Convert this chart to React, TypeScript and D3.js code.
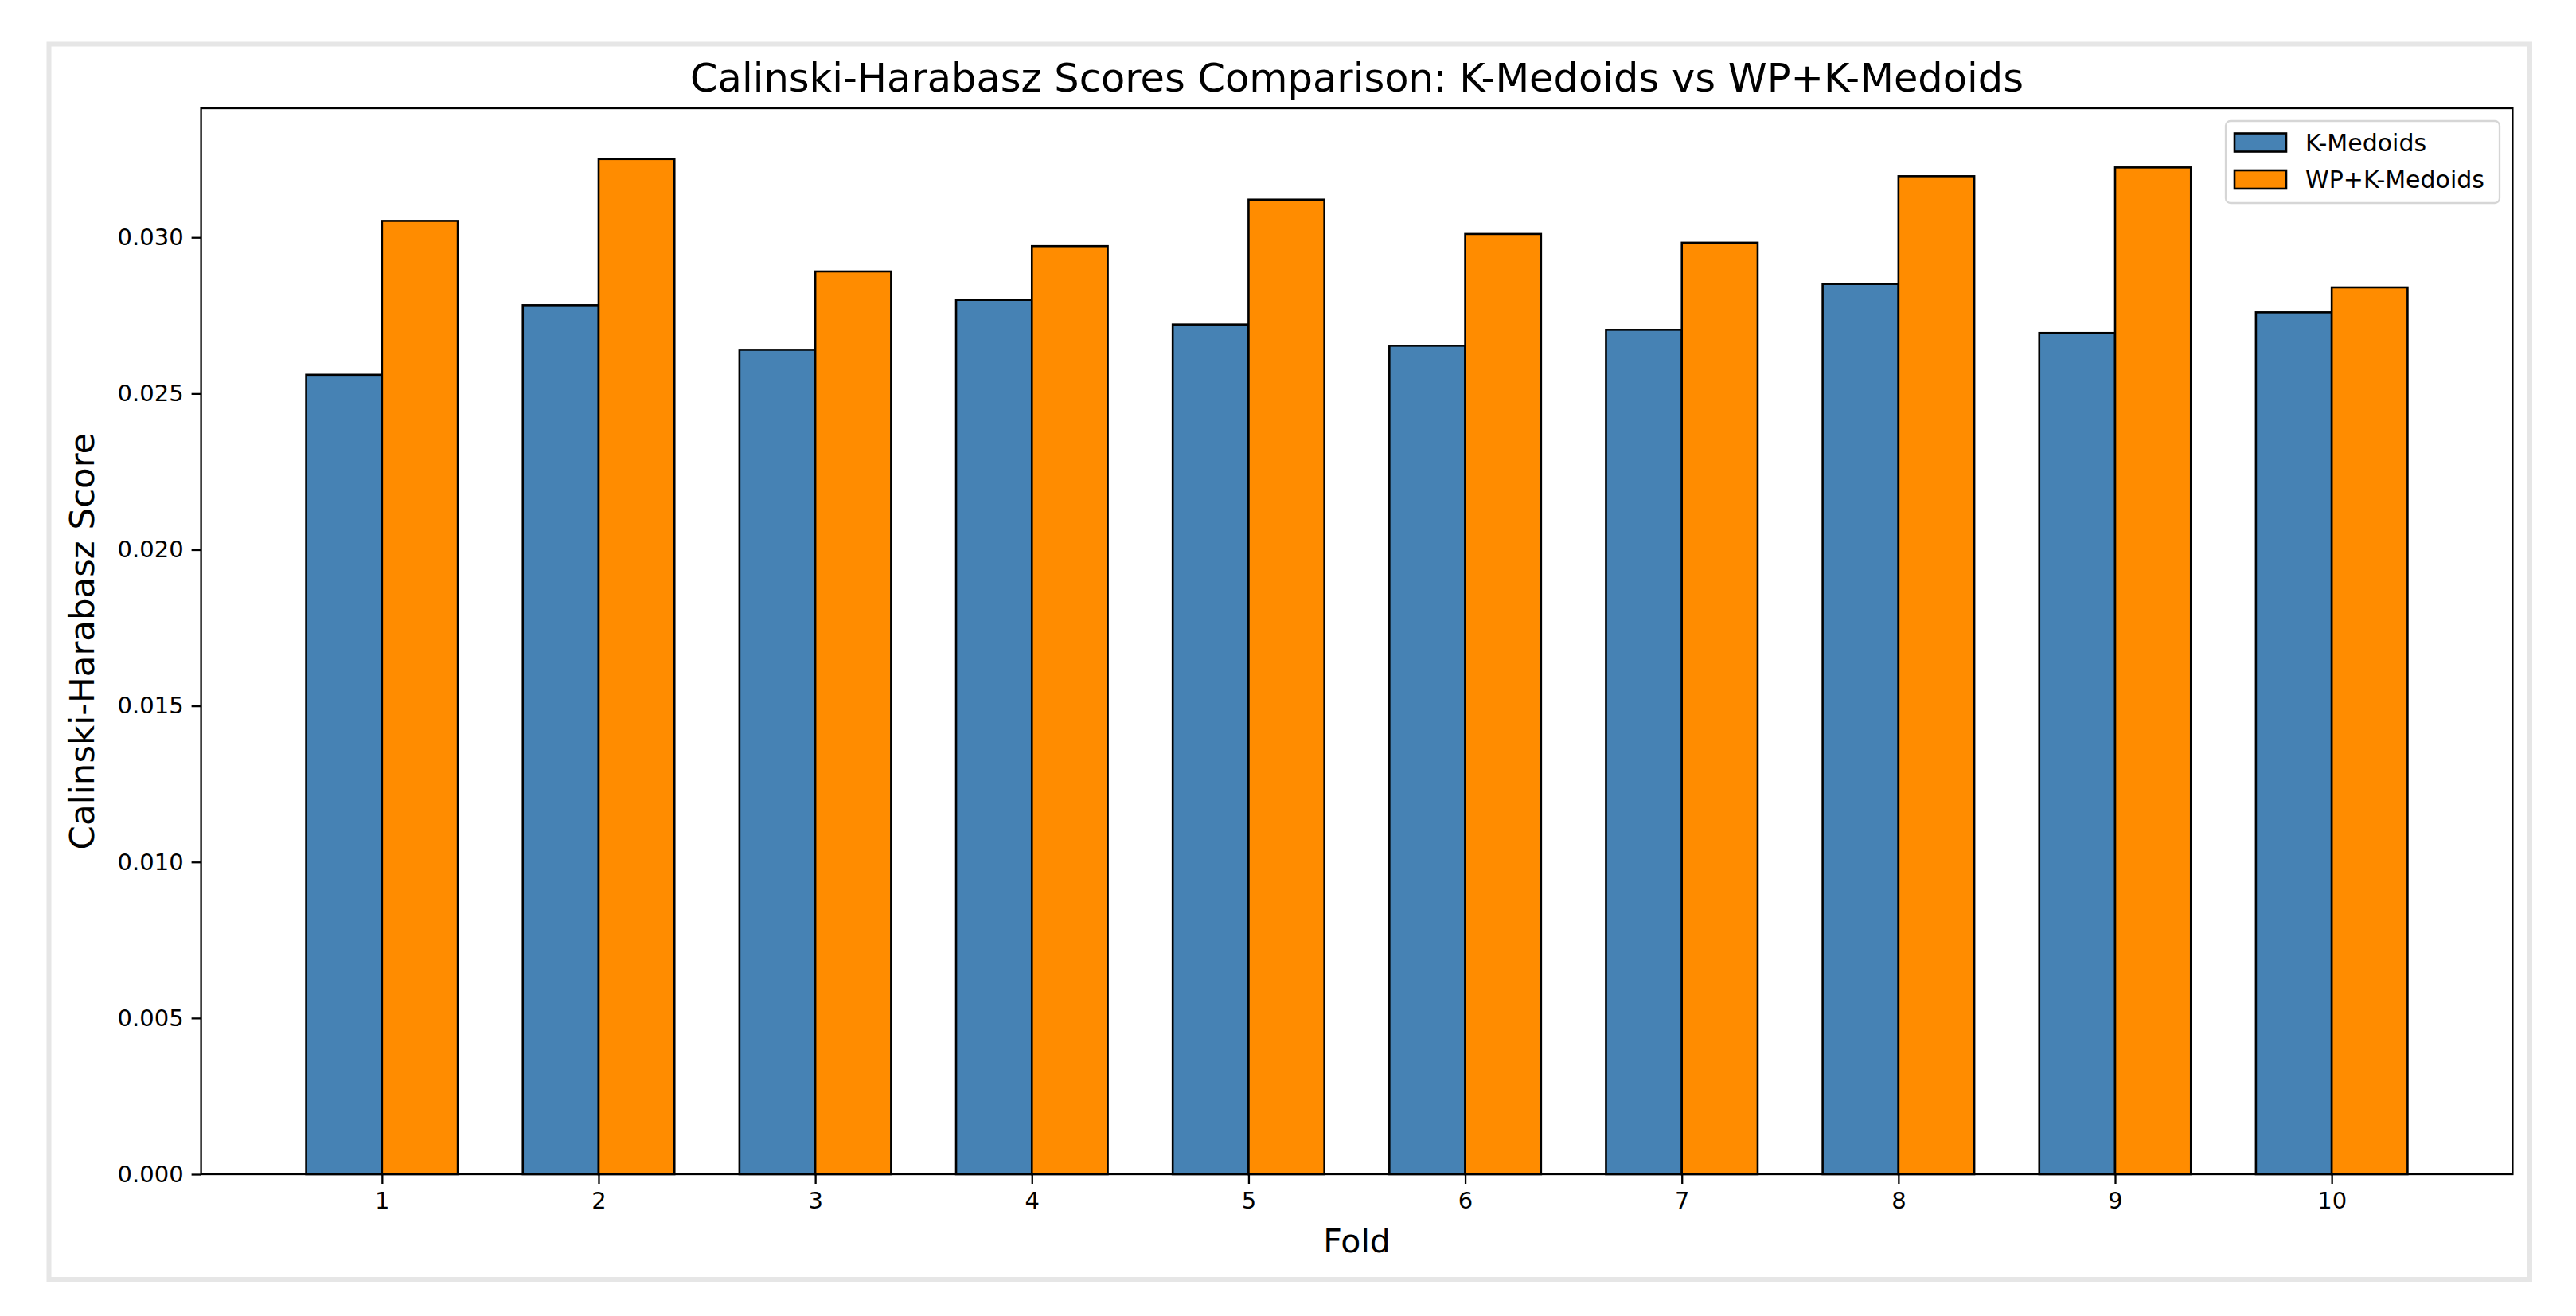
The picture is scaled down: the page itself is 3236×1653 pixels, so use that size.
import React, { useEffect, useRef } from "react";
import * as d3 from "d3";

const folds = ["1", "2", "3", "4", "5", "6", "7", "8", "9", "10"];
const kMedoids = [0.0256, 0.02783, 0.0264, 0.028, 0.02721, 0.02653, 0.02704, 0.02851, 0.02694, 0.0276];
const wpKMedoids = [0.03053, 0.03251, 0.02891, 0.02972, 0.03121, 0.03011, 0.02983, 0.03196, 0.03224, 0.0284];
const yTicks = [0, 0.005, 0.01, 0.015, 0.02, 0.025, 0.03];
const seriesNames = ["K-Medoids", "WP+K-Medoids"];
const seriesColors = ["#4682b4", "#ff8c00"];

const W = 3236;
const H = 1653;
const font = "'DejaVu Sans', sans-serif";

export default function App() {
  const ref = useRef<SVGSVGElement>(null);

  useEffect(() => {
    const svg = d3.select(ref.current);
    svg.selectAll("*").remove();

    const left = 252.6, right = 3156.4, top = 136, bottom = 1475;
    const barW = 0.35;
    const maxV = d3.max([...kMedoids, ...wpKMedoids]) as number;
    const span = folds.length - 1 + 2 * barW;

    const x = d3.scaleLinear()
      .domain([-barW - 0.05 * span, folds.length - 1 + barW + 0.05 * span])
      .range([left, right]);
    const y = d3.scaleLinear().domain([0, maxV * 1.05]).range([bottom, top]);

    svg.append("rect").attr("width", W).attr("height", H).attr("fill", "#ffffff");

    // outer frame
    svg.append("rect")
      .attr("x", 61.5).attr("y", 55.5)
      .attr("width", 3178 - 61.5).attr("height", 1607 - 55.5)
      .attr("fill", "none").attr("stroke", "#e6e6e6").attr("stroke-width", 6);

    // bars
    const series = [kMedoids, wpKMedoids];
    series.forEach((vals, s) => {
      svg.append("g").selectAll("rect")
        .data(vals)
        .enter()
        .append("rect")
        .attr("x", (d, i) => x(i + (s === 0 ? -barW : 0)))
        .attr("y", d => y(d))
        .attr("width", x(barW) - x(0))
        .attr("height", d => y(0) - y(d))
        .attr("fill", seriesColors[s])
        .attr("stroke", "#000")
        .attr("stroke-width", 2.6);
    });

    // x axis
    const xAxis = d3.axisBottom(x)
      .tickValues(folds.map((_, i) => i))
      .tickFormat((d) => folds[d as number])
      .tickSize(12)
      .tickPadding(10);
    const gx = svg.append("g")
      .attr("transform", `translate(0, ${bottom})`)
      .call(xAxis);
    gx.select(".domain").remove();
    gx.selectAll("line").attr("stroke", "#000").attr("stroke-width", 2.3);
    gx.selectAll("text").attr("font-family", font).attr("font-size", 29).attr("fill", "#000");

    // y axis
    const yAxis = d3.axisLeft(y)
      .tickValues(yTicks)
      .tickFormat(d3.format(".3f"))
      .tickSize(12)
      .tickPadding(10);
    const gy = svg.append("g")
      .attr("transform", `translate(${left}, 0)`)
      .call(yAxis);
    gy.select(".domain").remove();
    gy.selectAll("line").attr("stroke", "#000").attr("stroke-width", 2.3);
    gy.selectAll("text").attr("font-family", font).attr("font-size", 29).attr("fill", "#000");

    // spines
    svg.append("rect")
      .attr("x", left).attr("y", top)
      .attr("width", right - left).attr("height", bottom - top)
      .attr("fill", "none").attr("stroke", "#000").attr("stroke-width", 2.3);

    // title
    svg.append("text")
      .attr("x", (left + right) / 2)
      .attr("y", 115)
      .attr("text-anchor", "middle")
      .attr("font-family", font)
      .attr("font-size", 49.5)
      .text("Calinski-Harabasz Scores Comparison: K-Medoids vs WP+K-Medoids");

    // x label
    svg.append("text")
      .attr("x", (left + right) / 2)
      .attr("y", 1573)
      .attr("text-anchor", "middle")
      .attr("font-family", font)
      .attr("font-size", 41)
      .text("Fold");

    // y label
    svg.append("text")
      .attr("transform", `translate(118, ${(top + bottom) / 2}) rotate(-90)`)
      .attr("text-anchor", "middle")
      .attr("font-family", font)
      .attr("font-size", 43.5)
      .text("Calinski-Harabasz Score");

    // legend
    const lg = svg.append("g");
    lg.append("rect")
      .attr("x", 2796).attr("y", 152)
      .attr("width", 3140 - 2796).attr("height", 255 - 152)
      .attr("rx", 6)
      .attr("fill", "#ffffff").attr("fill-opacity", 0.8)
      .attr("stroke", "#d6d6d6").attr("stroke-width", 2.3);
    seriesNames.forEach((name, i) => {
      const cy = 179 + i * 46.5;
      lg.append("rect")
        .attr("x", 2807).attr("y", cy - 11.5)
        .attr("width", 65).attr("height", 23)
        .attr("fill", seriesColors[i])
        .attr("stroke", "#000").attr("stroke-width", 2.6);
      lg.append("text")
        .attr("x", 2896).attr("y", cy)
        .attr("dy", "0.35em")
        .attr("font-family", font)
        .attr("font-size", 30)
        .text(name);
    });
  }, []);

  return (
    <div style={{ position: "absolute", left: 0, top: 0 }}>
      <svg ref={ref} width={W} height={H} style={{ display: "block" }} />
    </div>
  );
}
